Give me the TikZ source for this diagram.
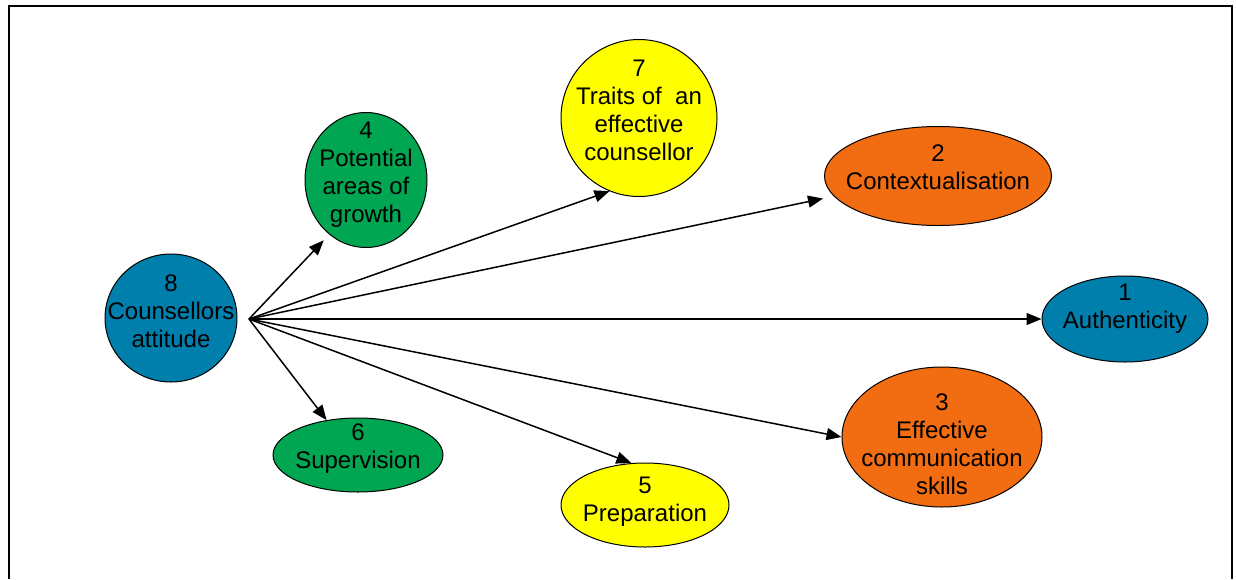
\documentclass[tikz,border=0pt]{standalone}
\usepackage{fontspec}
\setmainfont{Liberation Sans}
\usepackage{xcolor}
\usepackage{tikz}
\usetikzlibrary{arrows.meta,shapes.geometric}
\definecolor{attblue}{RGB}{0,127,173}
\definecolor{attgreen}{RGB}{0,166,81}
\definecolor{attorange}{RGB}{242,108,18}
\definecolor{attyellow}{RGB}{255,255,0}
\tikzset{
  bubble/.style={ellipse, draw=black, line width=0.5pt, fill=#1, inner sep=0pt},
  tag/.style={align=center, inner sep=0pt, font=\fontsize{12}{14}\selectfont},
  link/.style={line width=0.75pt, -{Triangle[length=7.5pt,width=6pt]}}
}

\begin{document}
\begin{tikzpicture}[x=0.5pt, y=-0.5pt]
\useasboundingbox (0,0) rectangle (1237,579);
% --- Frame (open at the bottom) ---
\draw[line width=1pt] (9,579) -- (9,6) -- (1232,6) -- (1232,579);

% --- Source bubble ---
\node[bubble=attblue, minimum width=66pt, minimum height=64pt,
  label={[tag, yshift=3.5pt]center:8\\Counsellors\\attitude}] (attitude) at (171,318) {};
\coordinate (hub) at (249,319);

% --- Target bubbles ---
\node[bubble=attgreen, minimum width=61pt, minimum height=67.5pt,
  label={[tag, yshift=2.5pt]center:4\\Potential\\areas of\\growth}] (growth) at (366,180) {};
\node[bubble=attyellow, minimum width=78pt, minimum height=78.5pt,
  label={[tag, yshift=4pt]center:7\\Traits of~ an\\effective\\counsellor}] (traits) at (639,118) {};
\node[bubble=attorange, minimum width=113.5pt, minimum height=49.5pt,
  label={[tag, yshift=4.5pt]center:2\\Contextualisation}] (context) at (938,176) {};
\node[bubble=attblue, minimum width=83pt, minimum height=43pt,
  label={[tag, yshift=5pt]center:1\\Authenticity}] (authentic) at (1125,319) {};
\node[bubble=attorange, minimum width=100pt, minimum height=70pt,
  label={[tag, yshift=-3.5pt]center:3\\Effective\\communication\\skills}] (communic) at (942,437) {};
\node[bubble=attyellow, minimum width=84pt, minimum height=42pt,
  label={[tag, yshift=1.5pt]center:5\\Preparation}] (prep) at (645,505) {};
\node[bubble=attgreen, minimum width=85pt, minimum height=37pt,
  label={[tag, yshift=3pt]center:6\\Supervision}] (superv) at (358,455) {};

% --- Arrows from the hub (target/border angle/gap) ---
\foreach \target/\ang/\gap in {growth/236/4pt,traits/248/0pt,context/191/5.5pt,
    authentic/180/0pt,communic/180/0pt,prep/108/0pt,superv/132/0pt}
  \draw[link, shorten >=\gap] (hub) -- (\target.\ang);
\end{tikzpicture}
\end{document}
